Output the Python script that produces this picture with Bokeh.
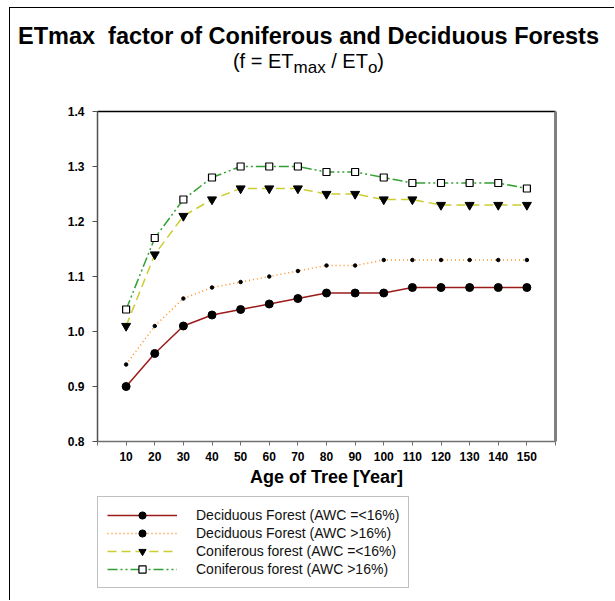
from bokeh.plotting import figure
from bokeh.layouts import column
from bokeh.models import LinearAxis, FixedTicker, Legend, LegendItem, Range1d, Div
from bokeh.embed import file_html
from bokeh.resources import INLINE

# ---- data ----
ages = [10, 20, 30, 40, 50, 60, 70, 80, 90, 100, 110, 120, 130, 140, 150]
deciduous_low = [0.90, 0.96, 1.01, 1.03, 1.04, 1.05, 1.06, 1.07, 1.07, 1.07, 1.08, 1.08, 1.08, 1.08, 1.08]
deciduous_high = [0.94, 1.01, 1.06, 1.08, 1.09, 1.10, 1.11, 1.12, 1.12, 1.13, 1.13, 1.13, 1.13, 1.13, 1.13]
coniferous_low = [1.01, 1.14, 1.21, 1.24, 1.26, 1.26, 1.26, 1.25, 1.25, 1.24, 1.24, 1.23, 1.23, 1.23, 1.23]
coniferous_high = [1.04, 1.17, 1.24, 1.28, 1.30, 1.30, 1.30, 1.29, 1.29, 1.28, 1.27, 1.27, 1.27, 1.27, 1.26]
series_labels = [
    "Deciduous Forest (AWC =<16%)",
    "Deciduous Forest (AWC >16%)",
    "Coniferous forest (AWC =<16%)",
    "Coniferous forest (AWC >16%)",
]
x_ticks = [0, 10, 20, 30, 40, 50, 60, 70, 80, 90, 100, 110, 120, 130, 140, 150, 160]
y_ticks = [0.8, 0.9, 1.0, 1.1, 1.2, 1.3, 1.4]
y_tick_labels = ["0.8", "0.9", "1.0", "1.1", "1.2", "1.3", "1.4"]
title_text = "ETmax&nbsp; factor of Coniferous and Deciduous Forests"
subtitle_html = "(f = ET<sub>max</sub> / ET<sub>o</sub>)"
x_label = "Age of Tree [Year]"

FONT = "Liberation Sans"
W = 604
NAN = float("nan")

# series styles
styles = [
    dict(color="#9B1B1B", dash="solid", marker="circle", size=8, fill="black"),
    dict(color="#FF8C1A", dash="1 3", marker="circle", size=3.5, fill="black"),
    dict(color="#CCCC33", dash="9 5", marker="inverted_triangle", size=9, fill="black"),
    dict(color="#33A033", dash="10 3 2 3 2 3", marker="square", size=7, fill="white"),
]
series = [deciduous_low, deciduous_high, coniferous_low, coniferous_high]

# ---- header (title + subtitle) ----
sub_styled = subtitle_html.replace("<sub>", '<sub style="font-size:17px;line-height:0;">')
head = Div(width=W, height=80, margin=0, text=(
    f'<div style="font-family:\'{FONT}\';text-align:center;color:black;width:{W - 7}px;">'
    f'<div style="font-weight:bold;font-size:23.5px;line-height:26px;padding-top:15px;">{title_text}</div>'
    f'<div style="font-size:20px;line-height:24px;padding-top:0px;">{sub_styled}</div>'
    f'</div>'))

# ---- main figure ----
p = figure(width=W, height=401, output_backend="svg", toolbar_location=None,
           x_range=Range1d(0, 160), y_range=Range1d(0.8, 1.4),
           min_border_left=87, min_border_top=23, min_border_right=W - 545, min_border_bottom=40)
p.grid.visible = False
p.outline_line_color = None

xa = p.xaxis[0]
xa.ticker = FixedTicker(ticks=x_ticks)
xa.major_label_overrides = {t: ("" if t in (0, 160) else str(t)) for t in x_ticks}
xa.axis_line_color = "#707070"
xa.axis_line_width = 1.5
xa.major_tick_line_color = "#707070"
xa.major_tick_out = 4
xa.major_tick_in = 0
xa.minor_tick_line_color = None
xa.major_label_text_font = FONT
xa.major_label_text_font_style = "bold"
xa.major_label_text_font_size = "12px"
xa.major_label_text_color = "black"
xa.major_label_standoff = 6
xa.axis_label = x_label
xa.axis_label_text_font = FONT
xa.axis_label_text_font_style = "bold"
xa.axis_label_text_font_size = "18px"
xa.axis_label_text_color = "black"
xa.axis_label_standoff = 3

ya = p.yaxis[0]
ya.ticker = FixedTicker(ticks=y_ticks)
ya.major_label_overrides = {t: l for t, l in zip(y_ticks, y_tick_labels)}
ya.axis_line_color = "#505050"
ya.axis_line_width = 1.5
ya.major_tick_line_color = "#505050"
ya.major_tick_out = 5
ya.major_tick_in = 0
ya.minor_tick_line_color = None
ya.major_label_text_font = FONT
ya.major_label_text_font_style = "bold"
ya.major_label_text_font_size = "12px"
ya.major_label_text_color = "black"
ya.major_label_standoff = 8

top = LinearAxis(ticker=FixedTicker(ticks=[]), axis_line_color="black", axis_line_width=1.5,
                 major_label_text_font_size="0px", minor_tick_line_color=None, major_tick_line_color=None)
p.add_layout(top, "above")
right = LinearAxis(ticker=FixedTicker(ticks=[]), axis_line_color="#808080", axis_line_width=3,
                   major_label_text_font_size="0px", minor_tick_line_color=None, major_tick_line_color=None)
p.add_layout(right, "right")

for ys, st in zip(series, styles):
    p.line(ages, ys, line_color=st["color"], line_width=1.5, line_dash=st["dash"])
    p.scatter(ages, ys, marker=st["marker"], size=st["size"], fill_color=st["fill"],
              line_color="black", line_width=1.2 if st["fill"] == "white" else 1)

# ---- legend panel (proxy renderers with no visible data, carrying the series styles) ----
lg = figure(width=W, height=111, output_backend="svg", toolbar_location=None,
            x_range=Range1d(0, 1), y_range=Range1d(0, 1),
            x_axis_location=None, y_axis_location=None, min_border=0)
lg.grid.visible = False
lg.outline_line_color = None
items = []
for lab, st in zip(series_labels, styles):
    lr = lg.line([NAN], [NAN], line_color=st["color"], line_width=1.5, line_dash=st["dash"])
    sr = lg.scatter([NAN], [NAN], marker=st["marker"], size=st["size"], fill_color=st["fill"],
                    line_color="black", line_width=1.2 if st["fill"] == "white" else 1)
    items.append(LegendItem(label=lab, renderers=[lr, sr]))
legend = Legend(
    items=items, location=(0, 12), margin=0, padding=9, spacing=0,
    glyph_width=70, glyph_height=18, label_height=18, label_standoff=19,
    label_text_font=FONT, label_text_font_size="14px", label_text_color="#111111",
    border_line_color="#808080", border_line_width=1.5,
    background_fill_color="white", background_fill_alpha=1.0,
)
lg.add_layout(legend)

layout = column(head, p, lg, spacing=0)
layout.styles = {"margin-left": "9px", "margin-top": "7px",
                 "border-left": "1px solid black", "border-top": "1px solid black"}

open("out.html", "w").write(file_html(layout, INLINE))
